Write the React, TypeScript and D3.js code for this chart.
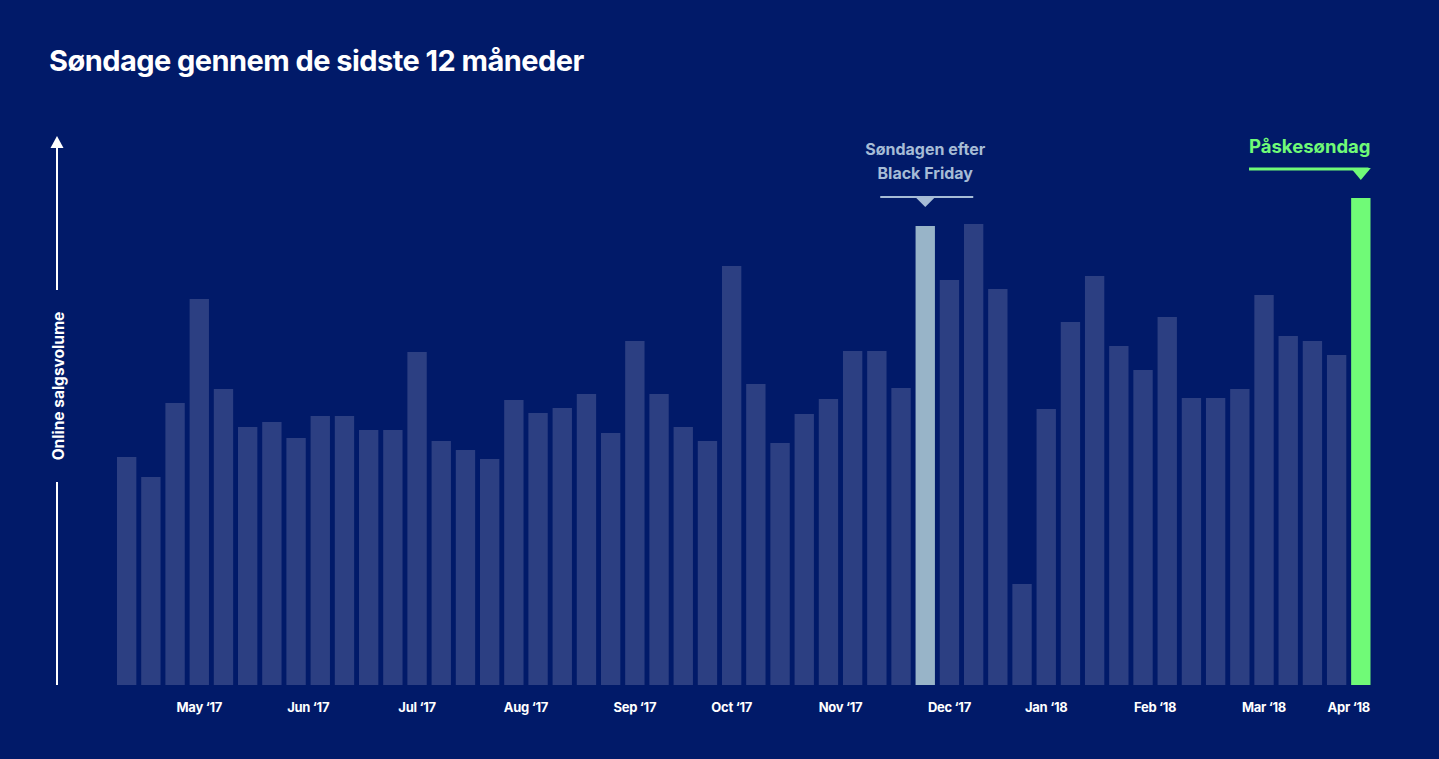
import React, { useEffect } from 'react';
import * as d3 from 'd3';

// Weekly Sunday online sales volume (index), Apr '17 – Apr '18
const sundayValues = [
  228, 208, 282, 386, 296, 258, 263, 247, 269, 269, 255, 255, 333,
  244, 235, 226, 285, 272, 277, 291, 252, 344, 291, 258, 244, 419,
  301, 242, 271, 286, 334, 334, 297, 459, 405, 461, 396, 101, 276,
  363, 409, 339, 315, 368, 287, 287, 296, 390, 349, 344, 330, 487,
];

// Month tick labels and the (fractional) week index they sit under
const monthLabels = [
  'May ‘17', 'Jun ‘17', 'Jul ‘17', 'Aug ‘17', 'Sep ‘17', 'Oct ‘17',
  'Nov ‘17', 'Dec ‘17', 'Jan ‘18', 'Feb ‘18', 'Mar ‘18', 'Apr ‘18',
];
const monthTickAt = [3, 7.5, 12, 16.5, 21, 25, 29.5, 34, 38, 42.5, 47, 50.5];

const blackFridayIndex = 33;
const easterIndex = 51;

const WIDTH = 1439;
const HEIGHT = 759;
const BG = '#011a69';
const BAR = '#2c3f82';
const BAR_BF = '#98b4c8';
const BF_TEXT = '#a6bcd6';
const GREEN = '#70fa77';
const FONT = 'Inter, "Noto Sans", sans-serif';

export default function App() {
  useEffect(() => {
    document.body.style.margin = '0';
    document.body.style.background = BG;
  }, []);

  const baseline = 685;

  const x = d3.scaleBand<number>()
    .domain(d3.range(sundayValues.length))
    .range([117, 1370.5])
    .paddingInner(0.2)
    .paddingOuter(0);

  const y = d3.scaleLinear().domain([0, 500]).range([baseline, 185]);

  const bw = x.bandwidth();
  // fractional index -> centre position
  const xc = d3.scaleLinear()
    .domain([0, sundayValues.length - 1])
    .range([(x(0) || 0) + bw / 2, (x(sundayValues.length - 1) || 0) + bw / 2]);

  const barColor = (i: number) => {
    if (i === easterIndex) return GREEN;
    if (i === blackFridayIndex) return BAR_BF;
    return BAR;
  };

  const bfX = xc(blackFridayIndex);
  const eX = xc(easterIndex);
  const eRight = (x(easterIndex) || 0) + bw;

  return (
    <svg width={WIDTH} height={HEIGHT} style={{ display: 'block', background: BG }}>
      <rect width={WIDTH} height={HEIGHT} fill={BG} />

      {/* title */}
      <text x={49} y={71} fill="#fff" fontFamily={FONT} fontWeight={700} fontSize={29} letterSpacing={-0.55}>
        Søndage gennem de sidste 12 måneder
      </text>

      {/* y axis arrow + label */}
      <g stroke="#fff" strokeWidth={2}>
        <line x1={57} x2={57} y1={145} y2={290} />
        <line x1={57} x2={57} y1={482} y2={685} />
      </g>
      <path d="M57,136 L63.5,148 L50.5,148 Z" fill="#fff" />
      <text
        transform="translate(64,386) rotate(-90)"
        textAnchor="middle"
        fill="#fff"
        fontFamily={FONT}
        fontWeight={700}
        fontSize={15.5}
      >
        Online salgsvolume
      </text>

      {/* bars */}
      <g>
        {sundayValues.map((v, i) => (
          <rect
            key={i}
            x={x(i)}
            y={y(v)}
            width={bw}
            height={baseline - y(v)}
            fill={barColor(i)}
          />
        ))}
      </g>

      {/* month labels */}
      <g fontFamily={FONT} fontWeight={700} fontSize={13} fill="#fff" textAnchor="middle">
        {monthLabels.map((m, i) => (
          <text key={m} x={xc(monthTickAt[i])} y={712} letterSpacing={-0.3}>
            {m}
          </text>
        ))}
      </g>

      {/* Black Friday annotation */}
      <g fontFamily={FONT} fontWeight={700} fontSize={16} fill={BF_TEXT} textAnchor="middle">
        <text x={bfX} y={155}>Søndagen efter</text>
        <text x={bfX} y={179}>Black Friday</text>
      </g>
      <line x1={bfX - 45} x2={bfX + 48} y1={197} y2={197} stroke={BF_TEXT} strokeWidth={2} />
      <path d={`M${bfX - 10},197 L${bfX + 10},197 L${bfX},207 Z`} fill={BF_TEXT} />

      {/* Easter annotation */}
      <text x={eRight} y={153} textAnchor="end" fontFamily={FONT} fontWeight={700} fontSize={18.5} fill={GREEN}>
        Påskesøndag
      </text>
      <line x1={1249} x2={eRight - 2} y1={169} y2={169} stroke={GREEN} strokeWidth={3} />
      <path d={`M${eX - 10},168 L${eX + 10},168 L${eX},180 Z`} fill={GREEN} />
    </svg>
  );
}
